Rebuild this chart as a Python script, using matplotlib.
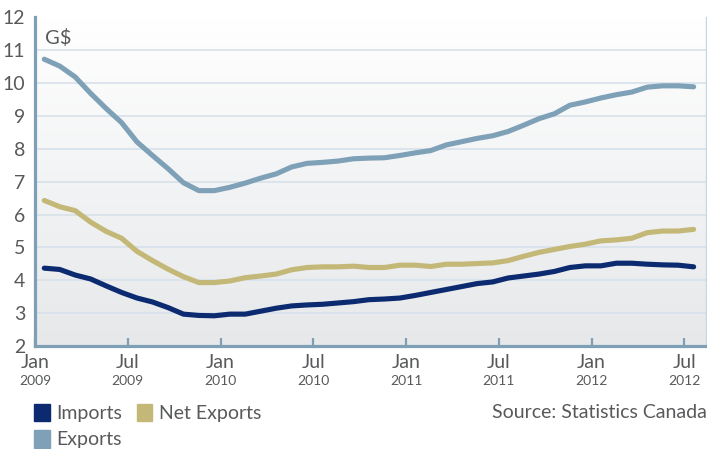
import numpy as np
import matplotlib
matplotlib.use("Agg")
import matplotlib.pyplot as plt
from matplotlib.patches import Patch
from matplotlib.colors import LinearSegmentedColormap

# ---- data (monthly, Jan 2009 .. Jul 2012), G$ ----
exports = [10.73, 10.52, 10.19, 9.69, 9.23, 8.80, 8.21, 7.80, 7.40, 6.97, 6.73, 6.73,
           6.83, 6.96, 7.11, 7.24, 7.45, 7.56, 7.59, 7.63, 7.70, 7.72, 7.73, 7.80,
           7.88, 7.95, 8.12, 8.22, 8.32, 8.40, 8.53, 8.72, 8.92, 9.07, 9.33, 9.43,
           9.55, 9.65, 9.73, 9.88, 9.92, 9.92, 9.89]
net_exports = [6.43, 6.24, 6.12, 5.77, 5.49, 5.28, 4.88, 4.60, 4.34, 4.11, 3.93, 3.93,
               3.98, 4.08, 4.13, 4.19, 4.32, 4.39, 4.41, 4.41, 4.43, 4.39, 4.39, 4.46,
               4.46, 4.42, 4.49, 4.49, 4.51, 4.53, 4.60, 4.73, 4.85, 4.94, 5.03, 5.10,
               5.20, 5.23, 5.28, 5.45, 5.50, 5.50, 5.55]
imports = [4.37, 4.33, 4.16, 4.04, 3.83, 3.63, 3.46, 3.34, 3.17, 2.97, 2.93, 2.92,
           2.97, 2.97, 3.06, 3.15, 3.22, 3.25, 3.27, 3.31, 3.35, 3.41, 3.43, 3.46,
           3.54, 3.63, 3.72, 3.81, 3.90, 3.95, 4.07, 4.13, 4.19, 4.27, 4.39, 4.44,
           4.44, 4.52, 4.52, 4.49, 4.47, 4.46, 4.41]
tick_months = ["Jan", "Jul", "Jan", "Jul", "Jan", "Jul", "Jan", "Jul"]
tick_years = ["2009", "2009", "2010", "2010", "2011", "2011", "2012", "2012"]
y_ticks = [2, 3, 4, 5, 6, 7, 8, 9, 10, 11, 12]

# mid-month positions, month index 0 = Jan 2009
x = np.arange(len(exports)) + 0.6
tick_pos = np.arange(len(tick_months)) * 6

C_EXP = "#7fa1b8"
C_NET = "#c4b878"
C_IMP = "#0b2a6f"
C_TXT = "#58595b"
C_AX = "#7f9fb5"
C_GRID = "#d7e1ea"

plt.rcParams['font.family'] = ['Lato', 'DejaVu Sans']

W, H = 707, 449
fig = plt.figure(figsize=(W / 100, H / 100), dpi=100)
ax = fig.add_axes([35 / W, (H - 346) / H, (706 - 35) / W, (346 - 17.5) / H])

# gradient background
grad = np.linspace(0, 1, 256).reshape(-1, 1)
cmap = LinearSegmentedColormap.from_list("bg", ["#ffffff", "#e6e8ea"])
ax.imshow(grad, extent=[0, 1, 0, 1], transform=ax.transAxes, aspect='auto',
          cmap=cmap, zorder=0)

ax.set_xlim(0, 43.4)
ax.set_ylim(2, 12)

for yv in y_ticks[1:]:
    ax.axhline(yv, color=C_GRID, lw=1.2, zorder=1)

lw = 3.7
ax.plot(x, exports, color=C_EXP, lw=lw, solid_capstyle='round', solid_joinstyle='round', zorder=3)
ax.plot(x, net_exports, color=C_NET, lw=lw, solid_capstyle='round', solid_joinstyle='round', zorder=3)
ax.plot(x, imports, color=C_IMP, lw=lw, solid_capstyle='round', solid_joinstyle='round', zorder=4)

ax.spines['top'].set_visible(False)
ax.spines['right'].set_color("#c8d6e2")
ax.spines['right'].set_linewidth(1.0)
ax.spines['left'].set_color(C_AX)
ax.spines['left'].set_linewidth(2.3)
ax.spines['bottom'].set_color(C_AX)
ax.spines['bottom'].set_linewidth(2.3)
for s in ax.spines.values():
    s.set_zorder(5)

ax.set_yticks(y_ticks)
ax.set_yticklabels([str(v) for v in y_ticks], fontsize=14, color=C_TXT)
ax.tick_params(axis='y', length=0, pad=7)

ax.set_xticks(tick_pos)
ax.set_xticklabels(tick_months, fontsize=14, color=C_TXT)
ax.tick_params(axis='x', direction='in', length=6, width=1.6, color=C_AX, pad=6)

trans = ax.get_xaxis_transform()
for p, yr in zip(tick_pos, tick_years):
    ax.text(p, -0.107, yr, transform=trans, ha='center', va='center',
            fontsize=10, color=C_TXT)

fig.text(45 / W, 1 - 38 / H, "G$", fontsize=14.5, color=C_TXT, va='center', ha='left')

handles = [Patch(color=C_IMP, label="Imports"),
           Patch(color=C_EXP, label="Exports"),
           Patch(color=C_NET, label="Net Exports")]
fig.legend(handles=handles, ncol=2, loc='upper left',
           bbox_to_anchor=(34 / W, 1 - 404 / H), frameon=False,
           fontsize=14, handlelength=0.8, handleheight=1.0, handletextpad=0.35,
           labelspacing=0.4, columnspacing=0.75, borderpad=0, borderaxespad=0,
           labelcolor=C_TXT)

fig.text(707 / W, 1 - 413 / H, "Source: Statistics Canada", fontsize=14,
         color=C_TXT, ha='right', va='center')

fig.savefig("out.png", dpi=100)
